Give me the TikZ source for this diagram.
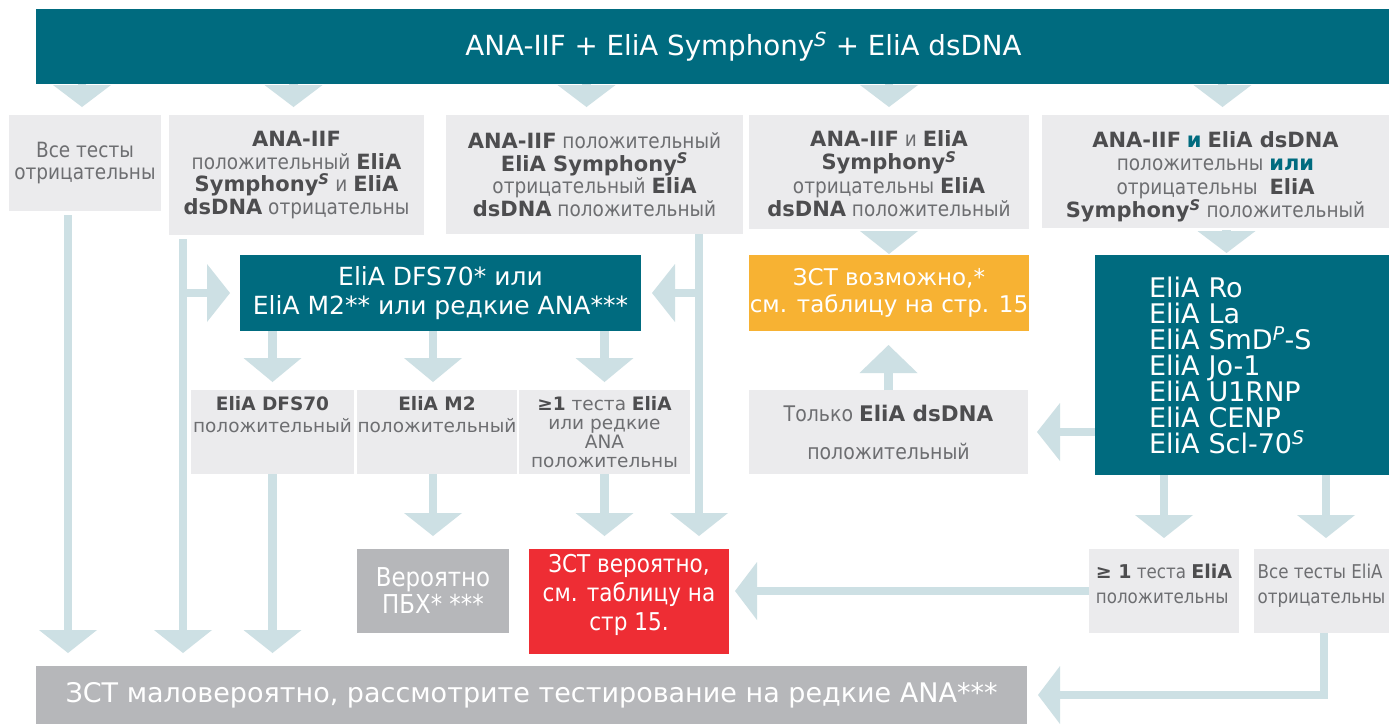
\documentclass[tikz,border=0pt]{standalone}
\usepackage{fontspec}
\setmainfont{DejaVu Sans}
\newfontfamily\condf{DejaVu Sans}[FakeStretch=0.88]
\usetikzlibrary{arrows.meta}
\definecolor{myteal}{HTML}{006B7F}
\definecolor{lgrey}{HTML}{EBEBED}
\definecolor{mgrey}{HTML}{B6B7BA}
\definecolor{arrowc}{HTML}{CDE0E4}
\definecolor{myorange}{HTML}{F7B233}
\definecolor{myred}{HTML}{EE2D34}
\definecolor{tdark}{HTML}{4D4D4F}
\definecolor{tlight}{HTML}{6D6E71}
\newcommand\hb[1]{{\normalfont\bfseries\color{tdark}#1}}
\newcommand\tb[1]{{\normalfont\bfseries\color{myteal}#1}}
\newcommand\supS{\textsuperscript{\textit{S}}}
\newcommand\fsz[2]{\fontsize{#1}{#2}\selectfont}
\begin{document}
\begin{tikzpicture}[x=1pt,y=-1pt,
  cell/.style={inner sep=0pt,outer sep=0pt,anchor=north west,align=center},
  lcell/.style={cell,fill=lgrey,text=tlight},
  tcell/.style={cell,fill=myteal,text=white},
  conn/.style={draw=arrowc,line width=8.5pt,-{Triangle[width=58pt,length=#1,line width=0pt]}},
  conn/.default=23pt]
\useasboundingbox (0,0) rectangle (1389,724);
\fill[white] (0,0) rectangle (1389,724);

% top bar
\node[tcell,minimum width=1353pt,minimum height=75pt,font=\fsz{27.7}{33}] (top) at (36,9)
  {\hspace*{62pt}ANA-IIF + EliA Symphony\supS{} + EliA dsDNA};

% row 1
\node[lcell,minimum width=152pt,minimum height=96pt,font=\condf\fsz{21}{22.5}] (b1) at (9,115)
  {Все тесты\\отрицательны};
\node[lcell,minimum width=255pt,minimum height=120pt,font=\condf\fsz{21}{22.5}] (b2) at (169,115)
  {\hb{ANA-IIF}\\положительный \hb{EliA}\\\hb{Symphony\supS} и \hb{EliA}\\\hb{dsDNA} отрицательны};
\node[lcell,minimum width=297pt,minimum height=119pt,font=\condf\fsz{21}{22.5}] (b3) at (446,115)
  {\hb{ANA-IIF} положительный\\\hb{EliA Symphony\supS}\\отрицательный \hb{EliA}\\\hb{dsDNA} положительный};
\node[lcell,minimum width=280pt,minimum height=114pt,font=\condf\fsz{21}{23.5}] (b4) at (749,115)
  {\hb{ANA-IIF} и \hb{EliA}\\\hb{Symphony\supS}\\отрицательны \hb{EliA}\\\hb{dsDNA} положительный\\[-26.5pt]\mbox{}};
\node[lcell,minimum width=347pt,minimum height=113pt,font=\condf\fsz{21}{23.5}] (b5) at (1042,115)
  {\hb{ANA-IIF} \tb{и} \hb{EliA dsDNA}\\положительны \tb{или}\\отрицательны\ \ \hb{EliA}\\\hb{Symphony\supS} положительный\\[-30pt]\mbox{}};

% row 2 (teal / orange)
\node[tcell,minimum width=401pt,minimum height=76pt,font=\fsz{25}{29}] (dfs) at (240,255)
  {EliA DFS70* или\\EliA M2** или редкие ANA***};
\node[cell,fill=myorange,text=white,minimum width=280pt,minimum height=76pt,font=\fsz{23}{27}] (orange) at (749,255)
  {ЗСТ возможно,*\\см. таблицу на стр. 15};
\node[tcell,align=left,text width=186pt,minimum width=294pt,minimum height=220pt,font=\fsz{27}{26}] (list) at (1095,255)
  {EliA Ro\\EliA La\\EliA SmD\textsuperscript{\textit{P}}-S\\EliA Jo-1\\EliA U1RNP\\EliA CENP\\EliA Scl-70\supS};

% row 3
\node[lcell,minimum width=163pt,minimum height=84pt,font=\fsz{18.5}{22}] (r2a) at (191,390)
  {\hb{EliA DFS70}\\положительный\\[13pt]\mbox{}};
\node[lcell,minimum width=160pt,minimum height=84pt,font=\fsz{18.5}{22}] (r2b) at (357,390)
  {\hb{EliA M2}\\положительный\\[13pt]\mbox{}};
\node[lcell,minimum width=171pt,minimum height=84pt,font=\fsz{18.5}{19}] (r2c) at (519,390)
  {\hb{≥1} теста \hb{EliA}\\или редкие\\ANA\\положительны};
\node[lcell,minimum width=279pt,minimum height=84pt,font=\condf\fsz{21.5}{22}] (tolko) at (749,390)
  {Только \hb{EliA dsDNA}\\[16pt]положительный};

% row 4
\node[cell,fill=mgrey,text=white,minimum width=152pt,minimum height=84pt,font=\condf\fsz{26}{27}] (pbh) at (357,549)
  {Вероятно\\ПБХ* ***};
\node[cell,fill=myred,text=white,minimum width=200pt,minimum height=105pt,font=\condf\fsz{24.5}{29}] (red) at (529,549)
  {ЗСТ вероятно,\\см. таблицу на\\стр 15.\\[-11pt]\mbox{}};
\node[lcell,align=left,minimum width=150pt,minimum height=84pt,font=\condf\fsz{19}{25}] (ge1) at (1089,549)
  {\hb{≥ 1} теста \hb{EliA}\\положительны\\[-10pt]\mbox{}};
\node[lcell,align=left,minimum width=135pt,minimum height=84pt,font=\condf\fsz{19}{25}] (allneg) at (1254,549)
  {Все тесты EliA\\отрицательны\\[-10pt]\mbox{}};

% bottom
\node[cell,fill=mgrey,text=white,minimum width=991pt,minimum height=58pt,font=\fsz{27}{32}] (bottom) at (36,666)
  {ЗСТ маловероятно, рассмотрите тестирование на редкие ANA***};

% connectors from top bar
\coordinate (t1) at ([xshift=-3pt]b1.north);
\coordinate (t2) at ([xshift=-3pt]b2.north);
\coordinate (t3) at ([xshift=-8pt]b3.north);
\coordinate (t4) at (b4.north);
\coordinate (t5) at ([xshift=7pt]b5.north);
\foreach \c in {t1,t2,t3,t4,t5}
  \draw[conn=22pt,shorten >=8pt] (\c |- top.south) -- (\c);

% left stems
\coordinate (s1) at ([xshift=-17pt]b1.south);
\draw[conn,shorten <=4pt,shorten >=13pt] (s1) -- (s1 |- bottom.north);
\coordinate (s2) at ([xshift=14pt]b2.south west);
\draw[conn,shorten <=4pt,shorten >=13pt] (s2) -- (s2 |- bottom.north);
\draw[conn,shorten >=10pt] (s2 |- dfs.west) -- (dfs.west);
\coordinate (s3) at ([xshift=-44pt]b3.south east);
\draw[conn,shorten >=13pt] (s3) -- (s3 |- red.north);
\draw[conn,shorten >=11pt] (s3 |- dfs.east) -- (dfs.east);

% dfs to row 3
\coordinate (m2) at ([xshift=-4pt]r2b.north);
\draw[conn=24pt,shorten >=8pt] (dfs.south -| r2a.north) -- (r2a.north);
\draw[conn=24pt,shorten >=8pt] (dfs.south -| m2) -- (m2);
\draw[conn=24pt,shorten >=8pt] (dfs.south -| r2c.north) -- (r2c.north);

% row 3 down
\draw[conn,shorten >=13pt] (r2a.south) -- (r2a.south |- bottom.north);
\draw[conn,shorten >=13pt] (r2b.south -| pbh.north) -- (pbh.north);
\draw[conn,shorten >=13pt] (r2c.south) -- (r2c.south |- red.north);

% right side
\draw[conn,shorten <=2pt,shorten >=1pt] (b4.south) -- (orange.north);
\draw[conn=28pt,shorten >=14pt] (tolko.north) -- (tolko.north |- orange.south);
\coordinate (s5) at ([xshift=11pt]b5.south);
\draw[conn=22pt,shorten <=2pt,shorten >=2pt] (s5) -- (s5 |- list.north);
\draw[conn,shorten >=9pt] (list.west |- tolko.east) -- (tolko.east);
\draw[conn,shorten >=11pt] (ge1.north |- list.south) -- (ge1.north);
\coordinate (a6) at ([xshift=72pt]allneg.north west);
\draw[conn,shorten >=11pt] (a6 |- list.south) -- (a6);
\draw[conn=22pt,shorten >=6pt] (ge1.west) -- (red.east |- ge1.west);
\coordinate (a7) at ([xshift=70pt]allneg.south west);
\draw[conn=22pt,shorten >=11pt] (a7) -- (a7 |- bottom.east) -- (bottom.east);
\end{tikzpicture}
\end{document}
